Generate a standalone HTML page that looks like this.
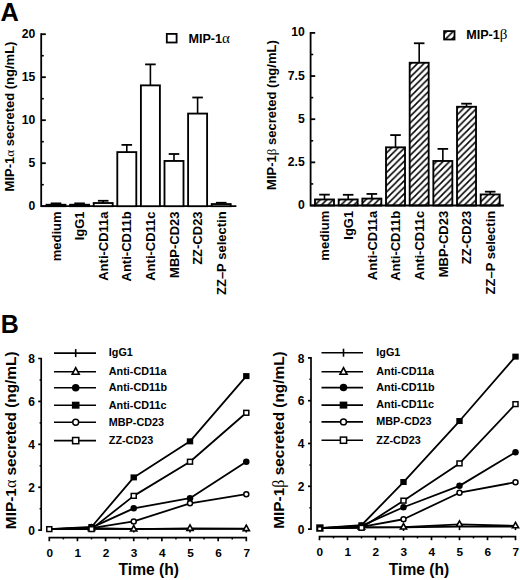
<!DOCTYPE html>
<html><head><meta charset="utf-8"><title>Figure</title>
<style>
html,body{margin:0;padding:0;background:#fff;}
body{width:520px;height:580px;overflow:hidden;}
svg{display:block;}
text{font-family:"Liberation Sans", sans-serif;font-weight:bold;fill:#000;}
</style></head>
<body>
<svg width="520" height="580" viewBox="0 0 520 580">
<rect width="520" height="580" fill="#fff"/>
<defs>
<pattern id="hatch" patternUnits="userSpaceOnUse" width="6.5" height="6.5"><path d="M-1,1 L1,-1 M0,6.5 L6.5,0 M5.5,7.5 L7.5,5.5" stroke="#000" stroke-width="1.5"/></pattern>
<pattern id="hatch2" patternUnits="userSpaceOnUse" width="6.5" height="6.5" x="1.8" y="1.8"><path d="M-1,1 L1,-1 M0,6.5 L6.5,0 M5.5,7.5 L7.5,5.5" stroke="#000" stroke-width="1.5"/></pattern>
</defs>
<text x="0.60" y="20.80" font-size="25.4" text-anchor="start">A</text>
<text x="0.80" y="332.70" font-size="25.0" text-anchor="start">B</text>
<path d="M41.20,34.20 V206.20 H235.50" fill="none" stroke="#000" stroke-width="1.8" stroke-linejoin="miter" stroke-linecap="square"/>
<line x1="41.20" y1="206.20" x2="45.80" y2="206.20" stroke="#000" stroke-width="1.8"/>
<line x1="41.20" y1="163.20" x2="45.80" y2="163.20" stroke="#000" stroke-width="1.8"/>
<line x1="41.20" y1="120.20" x2="45.80" y2="120.20" stroke="#000" stroke-width="1.8"/>
<line x1="41.20" y1="77.20" x2="45.80" y2="77.20" stroke="#000" stroke-width="1.8"/>
<line x1="41.20" y1="34.20" x2="45.80" y2="34.20" stroke="#000" stroke-width="1.8"/>
<line x1="41.20" y1="184.70" x2="43.80" y2="184.70" stroke="#000" stroke-width="1.6"/>
<line x1="41.20" y1="141.70" x2="43.80" y2="141.70" stroke="#000" stroke-width="1.6"/>
<line x1="41.20" y1="98.70" x2="43.80" y2="98.70" stroke="#000" stroke-width="1.6"/>
<line x1="41.20" y1="55.70" x2="43.80" y2="55.70" stroke="#000" stroke-width="1.6"/>
<text x="35.20" y="209.70" font-size="12.2" text-anchor="end">0</text>
<text x="35.20" y="166.70" font-size="12.2" text-anchor="end">5</text>
<text x="35.20" y="123.70" font-size="12.2" text-anchor="end">10</text>
<text x="35.20" y="80.70" font-size="12.2" text-anchor="end">15</text>
<text x="35.20" y="37.70" font-size="12.2" text-anchor="end">20</text>
<line x1="56.00" y1="204.74" x2="56.00" y2="203.36" stroke="#000" stroke-width="1.6"/>
<line x1="50.70" y1="203.36" x2="61.30" y2="203.36" stroke="#000" stroke-width="1.8"/>
<rect x="46.50" y="204.74" width="19.00" height="1.46" fill="#fff" stroke="#000" stroke-width="1.85"/>
<line x1="79.60" y1="204.74" x2="79.60" y2="203.36" stroke="#000" stroke-width="1.6"/>
<line x1="74.30" y1="203.36" x2="84.90" y2="203.36" stroke="#000" stroke-width="1.8"/>
<rect x="70.10" y="204.74" width="19.00" height="1.46" fill="#fff" stroke="#000" stroke-width="1.85"/>
<line x1="103.20" y1="203.02" x2="103.20" y2="200.78" stroke="#000" stroke-width="1.6"/>
<line x1="97.90" y1="200.78" x2="108.50" y2="200.78" stroke="#000" stroke-width="1.8"/>
<rect x="93.70" y="203.02" width="19.00" height="3.18" fill="#fff" stroke="#000" stroke-width="1.85"/>
<line x1="126.80" y1="152.11" x2="126.80" y2="144.88" stroke="#000" stroke-width="1.6"/>
<line x1="121.50" y1="144.88" x2="132.10" y2="144.88" stroke="#000" stroke-width="1.8"/>
<rect x="117.30" y="152.11" width="19.00" height="54.09" fill="#fff" stroke="#000" stroke-width="1.85"/>
<line x1="150.40" y1="85.37" x2="150.40" y2="64.39" stroke="#000" stroke-width="1.6"/>
<line x1="145.10" y1="64.39" x2="155.70" y2="64.39" stroke="#000" stroke-width="1.8"/>
<rect x="140.90" y="85.37" width="19.00" height="120.83" fill="#fff" stroke="#000" stroke-width="1.85"/>
<line x1="174.00" y1="160.96" x2="174.00" y2="154.00" stroke="#000" stroke-width="1.6"/>
<line x1="168.70" y1="154.00" x2="179.30" y2="154.00" stroke="#000" stroke-width="1.8"/>
<rect x="164.50" y="160.96" width="19.00" height="45.24" fill="#fff" stroke="#000" stroke-width="1.85"/>
<line x1="197.60" y1="113.58" x2="197.60" y2="97.50" stroke="#000" stroke-width="1.6"/>
<line x1="192.30" y1="97.50" x2="202.90" y2="97.50" stroke="#000" stroke-width="1.8"/>
<rect x="188.10" y="113.58" width="19.00" height="92.62" fill="#fff" stroke="#000" stroke-width="1.85"/>
<line x1="221.20" y1="204.05" x2="221.20" y2="202.76" stroke="#000" stroke-width="1.6"/>
<line x1="215.90" y1="202.76" x2="226.50" y2="202.76" stroke="#000" stroke-width="1.8"/>
<rect x="211.70" y="204.05" width="19.00" height="2.15" fill="#fff" stroke="#000" stroke-width="1.85"/>
<text x="60.70" y="211.40" font-size="13.0" text-anchor="end" transform="rotate(-90 60.70 211.40)">medium</text>
<text x="84.30" y="211.40" font-size="13.0" text-anchor="end" transform="rotate(-90 84.30 211.40)">IgG1</text>
<text x="107.90" y="211.40" font-size="13.0" text-anchor="end" transform="rotate(-90 107.90 211.40)">Anti-CD11a</text>
<text x="131.50" y="211.40" font-size="13.0" text-anchor="end" transform="rotate(-90 131.50 211.40)">Anti-CD11b</text>
<text x="155.10" y="211.40" font-size="13.0" text-anchor="end" transform="rotate(-90 155.10 211.40)">Anti-CD11c</text>
<text x="178.70" y="211.40" font-size="13.0" text-anchor="end" transform="rotate(-90 178.70 211.40)">MBP-CD23</text>
<text x="202.30" y="211.40" font-size="13.0" text-anchor="end" transform="rotate(-90 202.30 211.40)">ZZ-CD23</text>
<text x="225.90" y="211.40" font-size="13.0" text-anchor="end" transform="rotate(-90 225.90 211.40)">ZZ–P selectin</text>
<text x="14.40" y="116.50" font-size="13.0" text-anchor="middle" transform="rotate(-90 14.40 116.50)">MIP-1<tspan font-family="Liberation Serif" font-weight="normal">α</tspan> secreted (ng/mL)</text>
<rect x="166.80" y="33.90" width="9.80" height="8.60" fill="#fff" stroke="#000" stroke-width="1.8"/>
<text x="188.40" y="42.80" font-size="12.6">MIP-1<tspan font-family="Liberation Serif" font-weight="normal" font-size="15">α</tspan></text>
<path d="M310.60,32.90 V205.50 H503.00" fill="none" stroke="#000" stroke-width="1.8" stroke-linejoin="miter" stroke-linecap="square"/>
<line x1="310.60" y1="205.50" x2="315.20" y2="205.50" stroke="#000" stroke-width="1.8"/>
<line x1="310.60" y1="162.35" x2="315.20" y2="162.35" stroke="#000" stroke-width="1.8"/>
<line x1="310.60" y1="119.20" x2="315.20" y2="119.20" stroke="#000" stroke-width="1.8"/>
<line x1="310.60" y1="76.05" x2="315.20" y2="76.05" stroke="#000" stroke-width="1.8"/>
<line x1="310.60" y1="32.90" x2="315.20" y2="32.90" stroke="#000" stroke-width="1.8"/>
<line x1="310.60" y1="183.93" x2="313.20" y2="183.93" stroke="#000" stroke-width="1.6"/>
<line x1="310.60" y1="140.78" x2="313.20" y2="140.78" stroke="#000" stroke-width="1.6"/>
<line x1="310.60" y1="97.63" x2="313.20" y2="97.63" stroke="#000" stroke-width="1.6"/>
<line x1="310.60" y1="54.48" x2="313.20" y2="54.48" stroke="#000" stroke-width="1.6"/>
<text x="304.80" y="209.00" font-size="12.2" text-anchor="end">0</text>
<text x="304.80" y="165.85" font-size="12.2" text-anchor="end">2.5</text>
<text x="304.80" y="122.70" font-size="12.2" text-anchor="end">5</text>
<text x="304.80" y="79.55" font-size="12.2" text-anchor="end">7.5</text>
<text x="304.80" y="36.40" font-size="12.2" text-anchor="end">10</text>
<line x1="324.50" y1="199.46" x2="324.50" y2="194.63" stroke="#000" stroke-width="1.6"/>
<line x1="319.20" y1="194.63" x2="329.80" y2="194.63" stroke="#000" stroke-width="1.8"/>
<rect x="315.00" y="199.46" width="19.00" height="6.04" fill="url(#hatch)" stroke="#000" stroke-width="1.85"/>
<line x1="348.17" y1="199.46" x2="348.17" y2="194.80" stroke="#000" stroke-width="1.6"/>
<line x1="342.87" y1="194.80" x2="353.47" y2="194.80" stroke="#000" stroke-width="1.8"/>
<rect x="338.67" y="199.46" width="19.00" height="6.04" fill="url(#hatch)" stroke="#000" stroke-width="1.85"/>
<line x1="371.84" y1="198.60" x2="371.84" y2="193.94" stroke="#000" stroke-width="1.6"/>
<line x1="366.54" y1="193.94" x2="377.14" y2="193.94" stroke="#000" stroke-width="1.8"/>
<rect x="362.34" y="198.60" width="19.00" height="6.90" fill="url(#hatch)" stroke="#000" stroke-width="1.85"/>
<line x1="395.51" y1="147.33" x2="395.51" y2="135.08" stroke="#000" stroke-width="1.6"/>
<line x1="390.21" y1="135.08" x2="400.81" y2="135.08" stroke="#000" stroke-width="1.8"/>
<rect x="386.01" y="147.33" width="19.00" height="58.17" fill="url(#hatch)" stroke="#000" stroke-width="1.85"/>
<line x1="419.18" y1="62.76" x2="419.18" y2="43.26" stroke="#000" stroke-width="1.6"/>
<line x1="413.88" y1="43.26" x2="424.48" y2="43.26" stroke="#000" stroke-width="1.8"/>
<rect x="409.68" y="62.76" width="19.00" height="142.74" fill="url(#hatch)" stroke="#000" stroke-width="1.85"/>
<line x1="442.85" y1="160.97" x2="442.85" y2="148.89" stroke="#000" stroke-width="1.6"/>
<line x1="437.55" y1="148.89" x2="448.15" y2="148.89" stroke="#000" stroke-width="1.8"/>
<rect x="433.35" y="160.97" width="19.00" height="44.53" fill="url(#hatch)" stroke="#000" stroke-width="1.85"/>
<line x1="466.52" y1="106.77" x2="466.52" y2="103.67" stroke="#000" stroke-width="1.6"/>
<line x1="461.22" y1="103.67" x2="471.82" y2="103.67" stroke="#000" stroke-width="1.8"/>
<rect x="457.02" y="106.77" width="19.00" height="98.73" fill="url(#hatch)" stroke="#000" stroke-width="1.85"/>
<line x1="490.19" y1="194.45" x2="490.19" y2="191.69" stroke="#000" stroke-width="1.6"/>
<line x1="484.89" y1="191.69" x2="495.49" y2="191.69" stroke="#000" stroke-width="1.8"/>
<rect x="480.69" y="194.45" width="19.00" height="11.05" fill="url(#hatch)" stroke="#000" stroke-width="1.85"/>
<text x="329.20" y="210.80" font-size="13.0" text-anchor="end" transform="rotate(-90 329.20 210.80)">medium</text>
<text x="352.87" y="210.80" font-size="13.0" text-anchor="end" transform="rotate(-90 352.87 210.80)">IgG1</text>
<text x="376.54" y="210.80" font-size="13.0" text-anchor="end" transform="rotate(-90 376.54 210.80)">Anti-CD11a</text>
<text x="400.21" y="210.80" font-size="13.0" text-anchor="end" transform="rotate(-90 400.21 210.80)">Anti-CD11b</text>
<text x="423.88" y="210.80" font-size="13.0" text-anchor="end" transform="rotate(-90 423.88 210.80)">Anti-CD11c</text>
<text x="447.55" y="210.80" font-size="13.0" text-anchor="end" transform="rotate(-90 447.55 210.80)">MBP-CD23</text>
<text x="471.22" y="210.80" font-size="13.0" text-anchor="end" transform="rotate(-90 471.22 210.80)">ZZ-CD23</text>
<text x="494.89" y="210.80" font-size="13.0" text-anchor="end" transform="rotate(-90 494.89 210.80)">ZZ–P selectin</text>
<text x="276.00" y="115.10" font-size="13.0" text-anchor="middle" transform="rotate(-90 276.00 115.10)">MIP-1<tspan font-family="Liberation Serif" font-weight="normal">β</tspan> secreted (ng/mL)</text>
<rect x="444.10" y="31.10" width="10.40" height="8.40" fill="url(#hatch2)" stroke="#000" stroke-width="1.8"/>
<text x="466.20" y="39.30" font-size="12.6">MIP-1<tspan font-family="Liberation Serif" font-weight="normal" font-size="15">β</tspan></text>
<path d="M38.20,358.50 H41.20 V530.20 H38.20" fill="none" stroke="#000" stroke-width="1.7"/>
<line x1="38.20" y1="487.28" x2="41.20" y2="487.28" stroke="#000" stroke-width="1.7"/>
<line x1="38.20" y1="444.35" x2="41.20" y2="444.35" stroke="#000" stroke-width="1.7"/>
<line x1="38.20" y1="401.43" x2="41.20" y2="401.43" stroke="#000" stroke-width="1.7"/>
<line x1="39.60" y1="508.74" x2="41.20" y2="508.74" stroke="#000" stroke-width="1.5"/>
<line x1="39.60" y1="465.81" x2="41.20" y2="465.81" stroke="#000" stroke-width="1.5"/>
<line x1="39.60" y1="422.89" x2="41.20" y2="422.89" stroke="#000" stroke-width="1.5"/>
<line x1="39.60" y1="379.96" x2="41.20" y2="379.96" stroke="#000" stroke-width="1.5"/>
<text x="35.00" y="534.80" font-size="12" text-anchor="end">0</text>
<text x="35.00" y="491.88" font-size="12" text-anchor="end">2</text>
<text x="35.00" y="448.95" font-size="12" text-anchor="end">4</text>
<text x="35.00" y="406.03" font-size="12" text-anchor="end">6</text>
<text x="35.00" y="363.10" font-size="12" text-anchor="end">8</text>
<path d="M49.30,541.20 V537.60 H246.30 V541.20" fill="none" stroke="#000" stroke-width="1.7"/>
<line x1="77.44" y1="537.60" x2="77.44" y2="541.20" stroke="#000" stroke-width="1.7"/>
<line x1="105.59" y1="537.60" x2="105.59" y2="541.20" stroke="#000" stroke-width="1.7"/>
<line x1="133.73" y1="537.60" x2="133.73" y2="541.20" stroke="#000" stroke-width="1.7"/>
<line x1="161.87" y1="537.60" x2="161.87" y2="541.20" stroke="#000" stroke-width="1.7"/>
<line x1="190.01" y1="537.60" x2="190.01" y2="541.20" stroke="#000" stroke-width="1.7"/>
<line x1="218.16" y1="537.60" x2="218.16" y2="541.20" stroke="#000" stroke-width="1.7"/>
<line x1="63.37" y1="537.60" x2="63.37" y2="539.40" stroke="#000" stroke-width="1.5"/>
<line x1="91.51" y1="537.60" x2="91.51" y2="539.40" stroke="#000" stroke-width="1.5"/>
<line x1="119.66" y1="537.60" x2="119.66" y2="539.40" stroke="#000" stroke-width="1.5"/>
<line x1="147.80" y1="537.60" x2="147.80" y2="539.40" stroke="#000" stroke-width="1.5"/>
<line x1="175.94" y1="537.60" x2="175.94" y2="539.40" stroke="#000" stroke-width="1.5"/>
<line x1="204.09" y1="537.60" x2="204.09" y2="539.40" stroke="#000" stroke-width="1.5"/>
<line x1="232.23" y1="537.60" x2="232.23" y2="539.40" stroke="#000" stroke-width="1.5"/>
<text x="49.70" y="557.20" font-size="11.8" text-anchor="middle">0</text>
<text x="77.84" y="557.20" font-size="11.8" text-anchor="middle">1</text>
<text x="105.99" y="557.20" font-size="11.8" text-anchor="middle">2</text>
<text x="134.13" y="557.20" font-size="11.8" text-anchor="middle">3</text>
<text x="162.27" y="557.20" font-size="11.8" text-anchor="middle">4</text>
<text x="190.41" y="557.20" font-size="11.8" text-anchor="middle">5</text>
<text x="218.56" y="557.20" font-size="11.8" text-anchor="middle">6</text>
<text x="246.70" y="557.20" font-size="11.8" text-anchor="middle">7</text>
<text x="148.80" y="574.90" font-size="15.6" text-anchor="middle">Time (h)</text>
<text x="15.60" y="440.30" font-size="15.4" text-anchor="middle" transform="rotate(-90 15.60 440.30)">MIP-1<tspan font-family="Liberation Serif" font-weight="normal" font-size="16">α</tspan> secreted (ng/mL)</text>
<polyline points="49.30,529.13 91.51,528.48 133.73,528.91 190.01,528.91 246.30,528.91" fill="none" stroke="#000" stroke-width="1.8" stroke-linejoin="round"/>
<polyline points="49.30,529.13 91.51,528.48 133.73,529.13 190.01,528.48 246.30,528.70" fill="none" stroke="#000" stroke-width="1.8" stroke-linejoin="round"/>
<polyline points="49.30,529.13 91.51,527.62 133.73,508.31 190.01,498.22 246.30,461.73" fill="none" stroke="#000" stroke-width="1.8" stroke-linejoin="round"/>
<polyline points="49.30,529.13 91.51,526.98 133.73,477.40 190.01,441.35 246.30,376.10" fill="none" stroke="#000" stroke-width="1.8" stroke-linejoin="round"/>
<polyline points="49.30,529.13 91.51,528.05 133.73,521.40 190.01,503.37 246.30,494.14" fill="none" stroke="#000" stroke-width="1.8" stroke-linejoin="round"/>
<polyline points="49.30,529.13 91.51,529.13 133.73,495.86 190.01,461.73 246.30,412.80" fill="none" stroke="#000" stroke-width="1.8" stroke-linejoin="round"/>
<line x1="91.51" y1="524.88" x2="91.51" y2="532.08" stroke="#000" stroke-width="1.6"/>
<line x1="133.73" y1="525.31" x2="133.73" y2="532.51" stroke="#000" stroke-width="1.6"/>
<line x1="190.01" y1="525.31" x2="190.01" y2="532.51" stroke="#000" stroke-width="1.6"/>
<line x1="246.30" y1="525.31" x2="246.30" y2="532.51" stroke="#000" stroke-width="1.6"/>
<path d="M91.51,524.88 L94.61,530.38 L88.41,530.38 Z" fill="#fff" stroke="#000" stroke-width="1.6" stroke-linejoin="miter"/>
<path d="M133.73,525.53 L136.83,531.03 L130.63,531.03 Z" fill="#fff" stroke="#000" stroke-width="1.6" stroke-linejoin="miter"/>
<path d="M190.01,524.88 L193.11,530.38 L186.91,530.38 Z" fill="#fff" stroke="#000" stroke-width="1.6" stroke-linejoin="miter"/>
<path d="M246.30,525.10 L249.40,530.60 L243.20,530.60 Z" fill="#fff" stroke="#000" stroke-width="1.6" stroke-linejoin="miter"/>
<circle cx="91.51" cy="527.62" r="3.25" fill="#000"/>
<circle cx="133.73" cy="508.31" r="3.25" fill="#000"/>
<circle cx="190.01" cy="498.22" r="3.25" fill="#000"/>
<circle cx="246.30" cy="461.73" r="3.25" fill="#000"/>
<rect x="88.31" y="523.98" width="6.4" height="6.0" fill="#000"/>
<rect x="130.53" y="474.40" width="6.4" height="6.0" fill="#000"/>
<rect x="186.81" y="438.35" width="6.4" height="6.0" fill="#000"/>
<rect x="243.10" y="373.10" width="6.4" height="6.0" fill="#000"/>
<circle cx="91.51" cy="528.05" r="2.5" fill="#fff" stroke="#000" stroke-width="1.5"/>
<circle cx="133.73" cy="521.40" r="2.5" fill="#fff" stroke="#000" stroke-width="1.5"/>
<circle cx="190.01" cy="503.37" r="2.5" fill="#fff" stroke="#000" stroke-width="1.5"/>
<circle cx="246.30" cy="494.14" r="2.5" fill="#fff" stroke="#000" stroke-width="1.5"/>
<rect x="89.01" y="526.73" width="5.0" height="4.8" fill="#fff" stroke="#000" stroke-width="1.5"/>
<rect x="131.23" y="493.46" width="5.0" height="4.8" fill="#fff" stroke="#000" stroke-width="1.5"/>
<rect x="187.51" y="459.33" width="5.0" height="4.8" fill="#fff" stroke="#000" stroke-width="1.5"/>
<rect x="243.80" y="410.40" width="5.0" height="4.8" fill="#fff" stroke="#000" stroke-width="1.5"/>
<rect x="46.80" y="526.73" width="5.0" height="4.8" fill="#fff" stroke="#000" stroke-width="1.5"/>
<line x1="54.00" y1="353.10" x2="96.00" y2="353.10" stroke="#000" stroke-width="1.6"/>
<line x1="75.70" y1="349.10" x2="75.70" y2="357.10" stroke="#000" stroke-width="1.6"/>
<text x="108.80" y="356.40" font-size="10.8" text-anchor="start">IgG1</text>
<line x1="54.00" y1="371.80" x2="96.00" y2="371.80" stroke="#000" stroke-width="1.6"/>
<path d="M75.70,367.70 L79.20,374.30 L72.20,374.30 Z" fill="#fff" stroke="#000" stroke-width="1.6" stroke-linejoin="miter"/>
<text x="108.80" y="375.10" font-size="10.8" text-anchor="start">Anti-CD11a</text>
<line x1="54.00" y1="387.80" x2="96.00" y2="387.80" stroke="#000" stroke-width="1.6"/>
<circle cx="75.70" cy="387.80" r="3.75" fill="#000"/>
<text x="108.80" y="391.10" font-size="10.8" text-anchor="start">Anti-CD11b</text>
<line x1="54.00" y1="405.20" x2="96.00" y2="405.20" stroke="#000" stroke-width="1.6"/>
<rect x="71.90" y="401.70" width="7.6" height="7.0" fill="#000"/>
<text x="108.80" y="408.50" font-size="10.8" text-anchor="start">Anti-CD11c</text>
<line x1="54.00" y1="422.20" x2="96.00" y2="422.20" stroke="#000" stroke-width="1.6"/>
<circle cx="75.70" cy="422.20" r="2.95" fill="#fff" stroke="#000" stroke-width="1.5"/>
<text x="108.80" y="425.50" font-size="10.8" text-anchor="start">MBP-CD23</text>
<line x1="54.00" y1="440.60" x2="96.00" y2="440.60" stroke="#000" stroke-width="1.6"/>
<rect x="72.60" y="437.50" width="6.2" height="6.2" fill="#fff" stroke="#000" stroke-width="1.5"/>
<text x="108.80" y="443.90" font-size="10.8" text-anchor="start">ZZ-CD23</text>
<path d="M308.00,357.90 H311.00 V529.10 H308.00" fill="none" stroke="#000" stroke-width="1.7"/>
<line x1="308.00" y1="486.30" x2="311.00" y2="486.30" stroke="#000" stroke-width="1.7"/>
<line x1="308.00" y1="443.50" x2="311.00" y2="443.50" stroke="#000" stroke-width="1.7"/>
<line x1="308.00" y1="400.70" x2="311.00" y2="400.70" stroke="#000" stroke-width="1.7"/>
<line x1="309.40" y1="507.70" x2="311.00" y2="507.70" stroke="#000" stroke-width="1.5"/>
<line x1="309.40" y1="464.90" x2="311.00" y2="464.90" stroke="#000" stroke-width="1.5"/>
<line x1="309.40" y1="422.10" x2="311.00" y2="422.10" stroke="#000" stroke-width="1.5"/>
<line x1="309.40" y1="379.30" x2="311.00" y2="379.30" stroke="#000" stroke-width="1.5"/>
<text x="304.50" y="533.70" font-size="12" text-anchor="end">0</text>
<text x="304.50" y="490.90" font-size="12" text-anchor="end">2</text>
<text x="304.50" y="448.10" font-size="12" text-anchor="end">4</text>
<text x="304.50" y="405.30" font-size="12" text-anchor="end">6</text>
<text x="304.50" y="362.50" font-size="12" text-anchor="end">8</text>
<path d="M319.50,540.20 V536.60 H515.50 V540.20" fill="none" stroke="#000" stroke-width="1.7"/>
<line x1="347.50" y1="536.60" x2="347.50" y2="540.20" stroke="#000" stroke-width="1.7"/>
<line x1="375.50" y1="536.60" x2="375.50" y2="540.20" stroke="#000" stroke-width="1.7"/>
<line x1="403.50" y1="536.60" x2="403.50" y2="540.20" stroke="#000" stroke-width="1.7"/>
<line x1="431.50" y1="536.60" x2="431.50" y2="540.20" stroke="#000" stroke-width="1.7"/>
<line x1="459.50" y1="536.60" x2="459.50" y2="540.20" stroke="#000" stroke-width="1.7"/>
<line x1="487.50" y1="536.60" x2="487.50" y2="540.20" stroke="#000" stroke-width="1.7"/>
<line x1="333.50" y1="536.60" x2="333.50" y2="538.40" stroke="#000" stroke-width="1.5"/>
<line x1="361.50" y1="536.60" x2="361.50" y2="538.40" stroke="#000" stroke-width="1.5"/>
<line x1="389.50" y1="536.60" x2="389.50" y2="538.40" stroke="#000" stroke-width="1.5"/>
<line x1="417.50" y1="536.60" x2="417.50" y2="538.40" stroke="#000" stroke-width="1.5"/>
<line x1="445.50" y1="536.60" x2="445.50" y2="538.40" stroke="#000" stroke-width="1.5"/>
<line x1="473.50" y1="536.60" x2="473.50" y2="538.40" stroke="#000" stroke-width="1.5"/>
<line x1="501.50" y1="536.60" x2="501.50" y2="538.40" stroke="#000" stroke-width="1.5"/>
<text x="319.90" y="556.20" font-size="11.8" text-anchor="middle">0</text>
<text x="347.90" y="556.20" font-size="11.8" text-anchor="middle">1</text>
<text x="375.90" y="556.20" font-size="11.8" text-anchor="middle">2</text>
<text x="403.90" y="556.20" font-size="11.8" text-anchor="middle">3</text>
<text x="431.90" y="556.20" font-size="11.8" text-anchor="middle">4</text>
<text x="459.90" y="556.20" font-size="11.8" text-anchor="middle">5</text>
<text x="487.90" y="556.20" font-size="11.8" text-anchor="middle">6</text>
<text x="515.90" y="556.20" font-size="11.8" text-anchor="middle">7</text>
<text x="419.00" y="574.90" font-size="15.6" text-anchor="middle">Time (h)</text>
<text x="283.60" y="440.00" font-size="15.4" text-anchor="middle" transform="rotate(-90 283.60 440.00)">MIP-1<tspan font-family="Liberation Serif" font-weight="normal" font-size="16">β</tspan> secreted (ng/mL)</text>
<polyline points="319.50,528.03 361.50,527.39 403.50,527.39 459.50,526.53 515.50,526.53" fill="none" stroke="#000" stroke-width="1.8" stroke-linejoin="round"/>
<polyline points="319.50,528.03 361.50,527.39 403.50,527.17 459.50,524.39 515.50,525.89" fill="none" stroke="#000" stroke-width="1.8" stroke-linejoin="round"/>
<polyline points="319.50,528.03 361.50,525.89 403.50,507.27 459.50,485.87 515.50,452.27" fill="none" stroke="#000" stroke-width="1.8" stroke-linejoin="round"/>
<polyline points="319.50,528.03 361.50,525.25 403.50,482.02 459.50,421.03 515.50,356.62" fill="none" stroke="#000" stroke-width="1.8" stroke-linejoin="round"/>
<polyline points="319.50,528.03 361.50,526.96 403.50,519.26 459.50,492.72 515.50,482.23" fill="none" stroke="#000" stroke-width="1.8" stroke-linejoin="round"/>
<polyline points="319.50,528.03 361.50,527.82 403.50,500.64 459.50,463.40 515.50,404.12" fill="none" stroke="#000" stroke-width="1.8" stroke-linejoin="round"/>
<line x1="361.50" y1="523.79" x2="361.50" y2="530.99" stroke="#000" stroke-width="1.6"/>
<line x1="403.50" y1="523.79" x2="403.50" y2="530.99" stroke="#000" stroke-width="1.6"/>
<line x1="459.50" y1="522.93" x2="459.50" y2="530.13" stroke="#000" stroke-width="1.6"/>
<line x1="515.50" y1="522.93" x2="515.50" y2="530.13" stroke="#000" stroke-width="1.6"/>
<path d="M361.50,523.79 L364.60,529.29 L358.40,529.29 Z" fill="#fff" stroke="#000" stroke-width="1.6" stroke-linejoin="miter"/>
<path d="M403.50,523.57 L406.60,529.07 L400.40,529.07 Z" fill="#fff" stroke="#000" stroke-width="1.6" stroke-linejoin="miter"/>
<path d="M459.50,520.79 L462.60,526.29 L456.40,526.29 Z" fill="#fff" stroke="#000" stroke-width="1.6" stroke-linejoin="miter"/>
<path d="M515.50,522.29 L518.60,527.79 L512.40,527.79 Z" fill="#fff" stroke="#000" stroke-width="1.6" stroke-linejoin="miter"/>
<circle cx="361.50" cy="525.89" r="3.25" fill="#000"/>
<circle cx="403.50" cy="507.27" r="3.25" fill="#000"/>
<circle cx="459.50" cy="485.87" r="3.25" fill="#000"/>
<circle cx="515.50" cy="452.27" r="3.25" fill="#000"/>
<rect x="358.30" y="522.25" width="6.4" height="6.0" fill="#000"/>
<rect x="400.30" y="479.02" width="6.4" height="6.0" fill="#000"/>
<rect x="456.30" y="418.03" width="6.4" height="6.0" fill="#000"/>
<rect x="512.30" y="353.62" width="6.4" height="6.0" fill="#000"/>
<circle cx="361.50" cy="526.96" r="2.5" fill="#fff" stroke="#000" stroke-width="1.5"/>
<circle cx="403.50" cy="519.26" r="2.5" fill="#fff" stroke="#000" stroke-width="1.5"/>
<circle cx="459.50" cy="492.72" r="2.5" fill="#fff" stroke="#000" stroke-width="1.5"/>
<circle cx="515.50" cy="482.23" r="2.5" fill="#fff" stroke="#000" stroke-width="1.5"/>
<rect x="359.00" y="525.42" width="5.0" height="4.8" fill="#fff" stroke="#000" stroke-width="1.5"/>
<rect x="401.00" y="498.24" width="5.0" height="4.8" fill="#fff" stroke="#000" stroke-width="1.5"/>
<rect x="457.00" y="461.00" width="5.0" height="4.8" fill="#fff" stroke="#000" stroke-width="1.5"/>
<rect x="513.00" y="401.72" width="5.0" height="4.8" fill="#fff" stroke="#000" stroke-width="1.5"/>
<rect x="316.20" y="524.33" width="7.4" height="7.4" fill="#000"/>
<rect x="318.30" y="527.63" width="2.8" height="2.4" fill="#fff"/>
<line x1="321.50" y1="352.70" x2="363.00" y2="352.70" stroke="#000" stroke-width="1.6"/>
<line x1="343.50" y1="348.70" x2="343.50" y2="356.70" stroke="#000" stroke-width="1.6"/>
<text x="376.30" y="356.00" font-size="10.8" text-anchor="start">IgG1</text>
<line x1="321.50" y1="371.80" x2="363.00" y2="371.80" stroke="#000" stroke-width="1.6"/>
<path d="M343.50,367.70 L347.00,374.30 L340.00,374.30 Z" fill="#fff" stroke="#000" stroke-width="1.6" stroke-linejoin="miter"/>
<text x="376.30" y="375.10" font-size="10.8" text-anchor="start">Anti-CD11a</text>
<line x1="321.50" y1="387.60" x2="363.00" y2="387.60" stroke="#000" stroke-width="1.6"/>
<circle cx="343.50" cy="387.60" r="3.75" fill="#000"/>
<text x="376.30" y="390.90" font-size="10.8" text-anchor="start">Anti-CD11b</text>
<line x1="321.50" y1="405.10" x2="363.00" y2="405.10" stroke="#000" stroke-width="1.6"/>
<rect x="339.70" y="401.60" width="7.6" height="7.0" fill="#000"/>
<text x="376.30" y="408.40" font-size="10.8" text-anchor="start">Anti-CD11c</text>
<line x1="321.50" y1="421.90" x2="363.00" y2="421.90" stroke="#000" stroke-width="1.6"/>
<circle cx="343.50" cy="421.90" r="2.95" fill="#fff" stroke="#000" stroke-width="1.5"/>
<text x="376.30" y="425.20" font-size="10.8" text-anchor="start">MBP-CD23</text>
<line x1="321.50" y1="440.20" x2="363.00" y2="440.20" stroke="#000" stroke-width="1.6"/>
<rect x="340.40" y="437.10" width="6.2" height="6.2" fill="#fff" stroke="#000" stroke-width="1.5"/>
<text x="376.30" y="443.50" font-size="10.8" text-anchor="start">ZZ-CD23</text>
</svg>
</body></html>
